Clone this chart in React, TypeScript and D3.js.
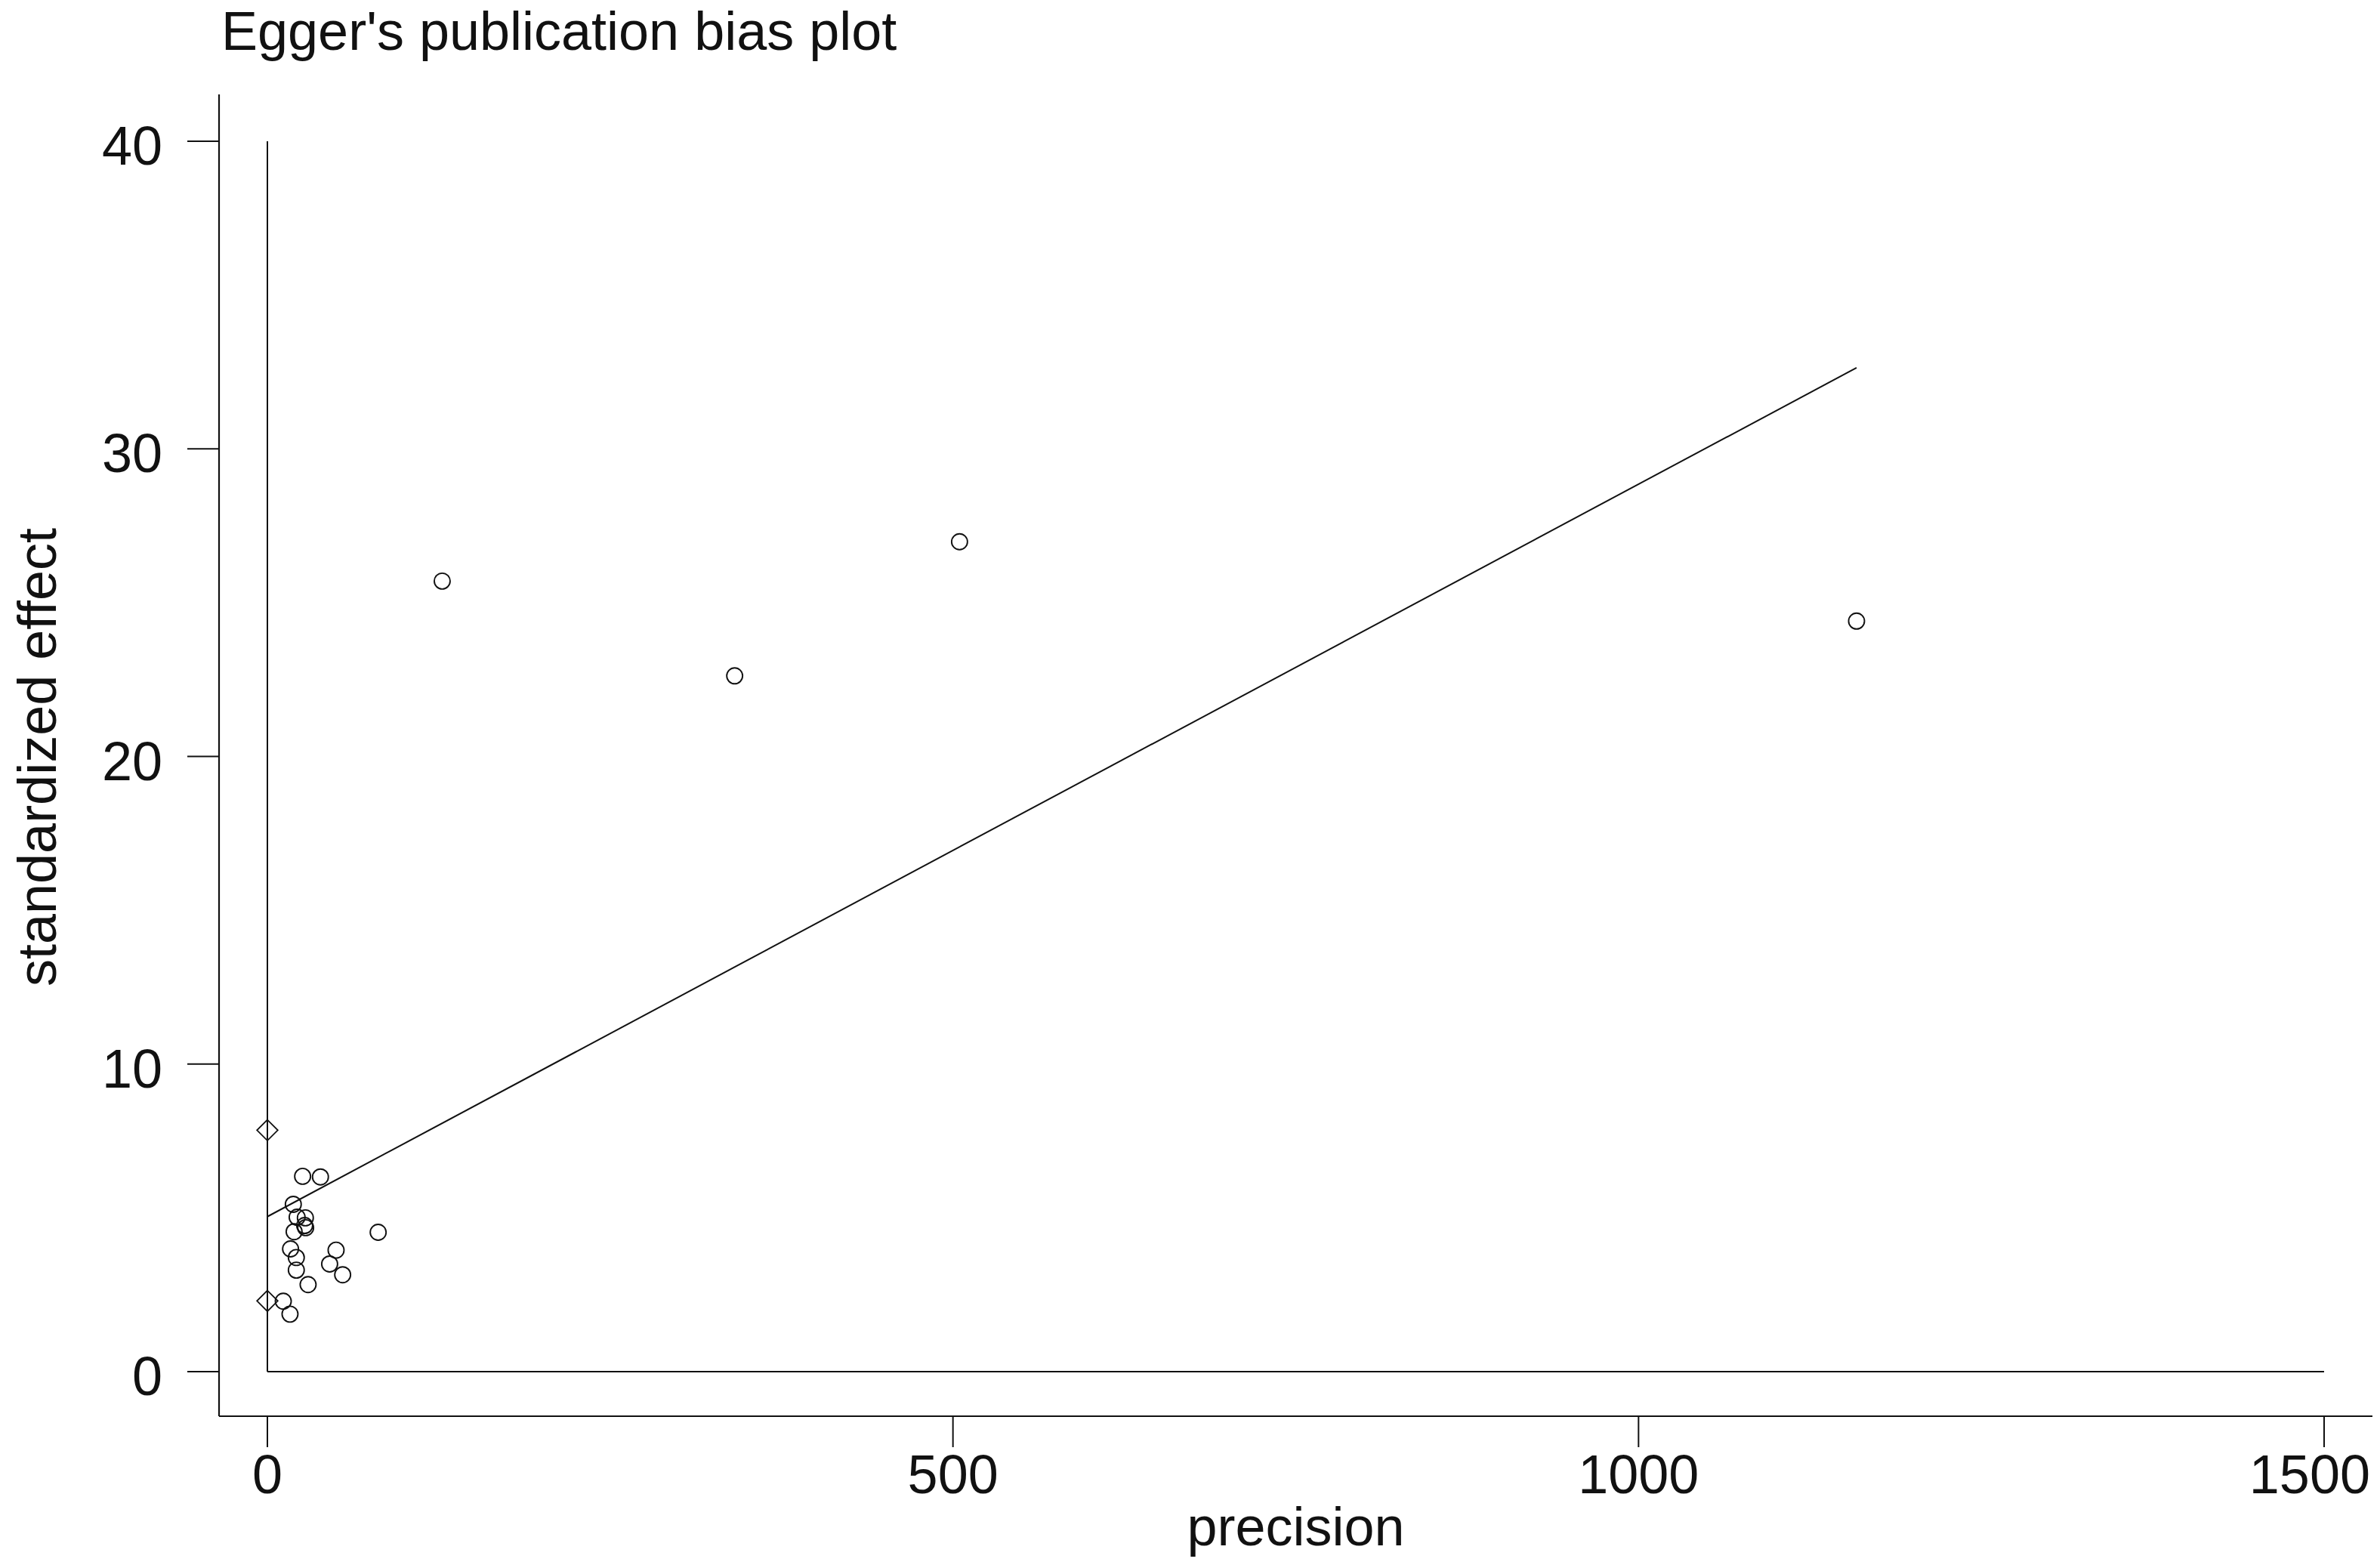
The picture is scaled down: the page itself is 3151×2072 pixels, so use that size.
import React, { useEffect } from "react";
import * as d3 from "d3";

// ---- data ----
const precision = [
  127.5, 504.8, 340.8, 1159,
  25.7, 38.7, 18.9, 21.7, 27.7, 27.2, 27.9, 19.5, 80.8,
  16.9, 50.1, 21.1, 45.4, 21.1, 54.9, 29.7, 11.6, 16.5,
];
const standardizedEffect = [
  25.7, 26.98, 22.62, 24.4,
  6.35, 6.33, 5.44, 5.02, 5.0, 4.75, 4.68, 4.55, 4.53,
  3.99, 3.95, 3.71, 3.5, 3.3, 3.15, 2.83, 2.29, 1.87,
];
const eggerIntercept = 5.04;
const eggerSlope = 0.02381;
const interceptCI = [2.3, 7.85];
const xTicks = [0, 500, 1000, 1500];
const yTicks = [0, 10, 20, 30, 40];
const title = "Egger's publication bias plot";
const xLabel = "precision";
const yLabel = "standardized effect";

// ---- layout ----
const W = 3151;
const H = 2072;
const FONT = "'Liberation Sans', Arial, Helvetica, sans-serif";
const INK = "#111";

export default function App() {
  useEffect(() => {
    document.body.style.margin = "0";
  }, []);

  const x = d3.scaleLinear().domain([0, 1500]).range([354, 3077]);
  const y = d3.scaleLinear().domain([0, 40]).range([1816, 187]);

  const frameLeft = 290;
  const frameTop = 125;
  const frameBottom = 1875;
  const frameRight = 3141;

  const maxP = d3.max(precision) as number;
  const eggerLine = d3.line<number>()
    .x((p) => x(p))
    .y((p) => y(eggerIntercept + eggerSlope * p));

  const diamond = d3.symbol().type(d3.symbolDiamond2).size(2 * 11 * 11 * 2);

  return (
    <svg
      width={W}
      height={H}
      viewBox={`0 0 ${W} ${H}`}
      style={{ display: "block", background: "#fff", position: "absolute", left: 0, top: 0 }}
      fontFamily={FONT}
    >
      <rect x={0} y={0} width={W} height={H} fill="#fff" />
      {/* title */}
      <text x={293} y={66} fontSize={72} fill={INK}>{title}</text>

      {/* frame axes */}
      <line x1={frameLeft} x2={frameLeft} y1={frameTop} y2={frameBottom} stroke={INK} strokeWidth={2.2} />
      <line x1={frameLeft} x2={frameRight} y1={frameBottom} y2={frameBottom} stroke={INK} strokeWidth={2.2} />

      {/* y ticks */}
      {yTicks.map((t) => (
        <g key={"y" + t}>
          <line x1={248} x2={frameLeft} y1={y(t)} y2={y(t)} stroke={INK} strokeWidth={2} />
          <text x={215} y={y(t) + 31} fontSize={72} textAnchor="end" fill={INK}>{t}</text>
        </g>
      ))}

      {/* x ticks */}
      {xTicks.map((t) => {
        const px = x(t);
        const nearEdge = px + 80 > W;
        return (
          <g key={"x" + t}>
            <line x1={px} x2={px} y1={frameBottom} y2={1916} stroke={INK} strokeWidth={2} />
            <text
              x={nearEdge ? W - 13 : px}
              y={1977}
              fontSize={72}
              textAnchor={nearEdge ? "end" : "middle"}
              fill={INK}
            >
              {t}
            </text>
          </g>
        );
      })}

      {/* axis labels */}
      <text x={(x(0) + x(1500)) / 2} y={2046} fontSize={72} textAnchor="middle" fill={INK}>{xLabel}</text>
      <text
        transform={`translate(74, ${(y(0) + y(40)) / 2 + 1}) rotate(-90)`}
        fontSize={72}
        textAnchor="middle"
        fill={INK}
      >
        {yLabel}
      </text>

      {/* reference lines at x=0 and y=0 */}
      <line x1={x(0)} x2={x(0)} y1={y(0)} y2={y(40)} stroke={INK} strokeWidth={2} />
      <line x1={x(0)} x2={x(1500)} y1={y(0)} y2={y(0)} stroke={INK} strokeWidth={2} />

      {/* Egger regression line */}
      <path d={eggerLine([0, maxP]) || ""} fill="none" stroke={INK} strokeWidth={2} />

      {/* intercept CI diamonds */}
      {interceptCI.map((v, i) => (
        <path
          key={"d" + i}
          d={diamond() || ""}
          transform={`translate(${x(0)}, ${y(v)})`}
          fill="none"
          stroke={INK}
          strokeWidth={1.8}
        />
      ))}

      {/* study points */}
      {precision.map((p, i) => (
        <circle
          key={"c" + i}
          cx={x(p)}
          cy={y(standardizedEffect[i])}
          r={10.5}
          fill="none"
          stroke={INK}
          strokeWidth={1.9}
        />
      ))}
    </svg>
  );
}
